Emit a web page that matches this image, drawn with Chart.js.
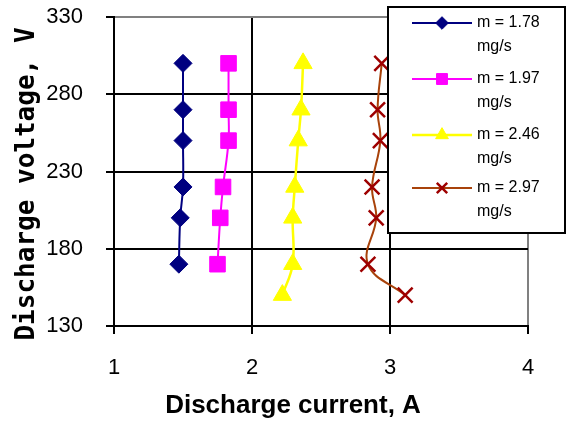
<!DOCTYPE html>
<html>
<head>
<meta charset="utf-8">
<script src="https://cdn.jsdelivr.net/npm/chart.js@4.4.0/dist/chart.umd.min.js"></script>
<style>
  html, body { margin: 0; padding: 0; background: #fff; }
  #wrap { width: 566px; height: 421px; }
</style>
</head>
<body>
<div id="wrap"><canvas id="myCanvas" width="566" height="421"></canvas></div>
<script>
// mass flow rates, shown in the legend
var seriesNames = ['m = 1.78', 'm = 1.97', 'm = 2.46', 'm = 2.97'];
var seriesUnit = 'mg/s';

// discharge current (A) and voltage (V) for each flow rate
var current178 = [1.50, 1.50, 1.50, 1.50, 1.48, 1.47];
var voltage178 = [300, 270, 250, 220, 200, 170];

var current197 = [1.83, 1.83, 1.83, 1.79, 1.77, 1.75];
var voltage197 = [300, 270, 250, 220, 200, 170];

var current246 = [2.37, 2.355, 2.335, 2.31, 2.295, 2.295, 2.22];
var voltage246 = [300, 270, 250, 220, 200, 170, 150];

var current297 = [2.94, 2.91, 2.93, 2.87, 2.90, 2.84, 3.11];
var voltage297 = [300, 270, 250, 220, 200, 170, 150];

var xTicks = [1, 2, 3, 4];
var yTicks = [130, 180, 230, 280, 330];

var xTitle = 'Discharge current, A';
var yTitle = 'Discharge voltage, V';

function toPoints(xs, ys) {
    return xs.map(function (x, i) { return { x: x, y: ys[i] }; });
}

function series(label, xs, ys, lineColor, markerColor, style, radius, lw) {
    return {
        label: label,
        data: toPoints(xs, ys),
        showLine: true,
        tension: 0.4,
        borderColor: lineColor,
        borderWidth: lw,
        pointStyle: style,
        pointRadius: radius,
        pointHoverRadius: radius,
        pointBackgroundColor: markerColor,
        pointBorderColor: markerColor,
        pointBorderWidth: style === 'crossRot' ? 2.5 : 1
    };
}

var datasets = [
    series(seriesNames[0], current178, voltage178, '#000080', '#000080', 'rectRot', 9, 2),
    series(seriesNames[1], current197, voltage197, '#FF00FF', '#FF00FF', 'rect', 11, 2),
    series(seriesNames[2], current246, voltage246, '#FFFF00', '#FFFF00', 'triangle', 10.5, 2.5),
    series(seriesNames[3], current297, voltage297, '#A8420A', '#9E0000', 'crossRot', 10.5, 2)
];

// axis titles and the boxed legend, drawn on top of the plot
var decorations = {
    id: 'decorations',
    afterDraw: function (chart) {
        var ctx = chart.ctx;

        ctx.save();
        ctx.fillStyle = '#000';
        ctx.textAlign = 'center';
        ctx.textBaseline = 'middle';
        ctx.font = 'bold 26px "Liberation Sans", Arial, sans-serif';
        ctx.fillText(xTitle, 293, 406);

        ctx.translate(27, 184);
        ctx.rotate(-Math.PI / 2);
        ctx.font = 'bold 26px "DejaVu Sans Mono", monospace';
        ctx.fillText(yTitle, 0, 0);
        ctx.restore();

        // legend box
        ctx.save();
        ctx.fillStyle = '#fff';
        ctx.fillRect(388, 7, 180, 226);
        ctx.strokeStyle = '#000';
        ctx.lineWidth = 2;
        ctx.strokeRect(388, 7, 177, 226);

        var rows = [23, 79, 135, 188];
        chart.data.datasets.forEach(function (ds, i) {
            var y = rows[i];
            ctx.strokeStyle = ds.borderColor;
            ctx.lineWidth = ds.borderWidth;
            ctx.beginPath();
            ctx.moveTo(412, y);
            ctx.lineTo(472, y);
            ctx.stroke();

            ctx.fillStyle = ds.pointBackgroundColor;
            ctx.strokeStyle = ds.pointBorderColor;
            ctx.lineWidth = ds.pointBorderWidth;
            Chart.helpers.drawPoint(ctx, {
                pointStyle: ds.pointStyle,
                radius: ds.pointRadius * 0.7,
                rotation: 0,
                borderWidth: ds.pointBorderWidth
            }, 442, y);

            ctx.fillStyle = '#000';
            ctx.font = '16px "Liberation Sans", Arial, sans-serif';
            ctx.textAlign = 'left';
            ctx.textBaseline = 'middle';
            ctx.fillText(ds.label, 477, y);
            ctx.fillText(seriesUnit, 477, y + 24);
        });
        ctx.restore();
    }
};

var tickFont = { family: '"Liberation Sans", Arial, sans-serif', size: 22 };

var myChart = new Chart(document.getElementById('myCanvas'), {
    type: 'scatter',
    data: { datasets: datasets },
    options: {
        responsive: false,
        animation: false,
        layout: { padding: { top: 17, right: 38, left: 0, bottom: 0 } },
        plugins: {
            legend: { display: false },
            tooltip: { enabled: false }
        },
        scales: {
            x: {
                type: 'linear',
                min: xTicks[0],
                max: xTicks[xTicks.length - 1],
                afterFit: function (scale) {
                    scale.height = 95;
                    scale.paddingLeft = 0;
                    scale.paddingRight = 0;
                },
                afterBuildTicks: function (scale) {
                    scale.ticks = xTicks.map(function (v) { return { value: v }; });
                },
                border: { display: true, color: '#000', width: 2 },
                grid: {
                    color: function (c) { return c.tick && c.tick.value === 4 ? '#808080' : '#000'; },
                    lineWidth: 2,
                    tickLength: 8,
                    tickColor: '#000',
                    tickWidth: 2
                },
                ticks: { color: '#000', font: tickFont, padding: 21, maxRotation: 0 }
            },
            y: {
                type: 'linear',
                min: yTicks[0],
                max: yTicks[yTicks.length - 1],
                afterFit: function (scale) {
                    scale.width = 114;
                    scale.paddingTop = 0;
                    scale.paddingBottom = 0;
                },
                afterBuildTicks: function (scale) {
                    scale.ticks = yTicks.map(function (v) { return { value: v }; });
                },
                border: { display: true, color: '#000', width: 2 },
                grid: {
                    color: function (c) { return c.tick && c.tick.value === 330 ? '#808080' : '#000'; },
                    lineWidth: 2,
                    tickLength: 8,
                    tickColor: '#000',
                    tickWidth: 2
                },
                ticks: { color: '#000', font: tickFont, padding: 23 }
            }
        }
    },
    plugins: [decorations]
});
</script>
</body>
</html>
